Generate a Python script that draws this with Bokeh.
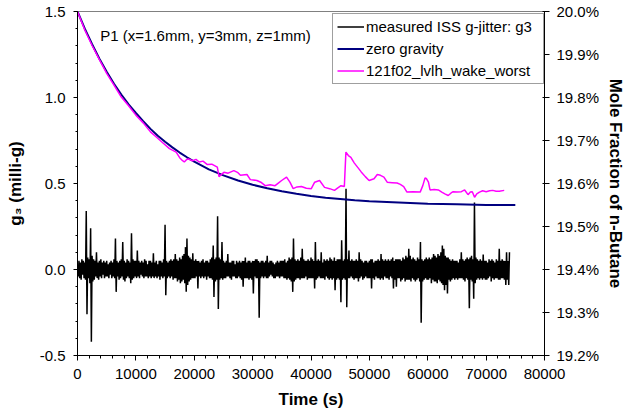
from bokeh.plotting import figure
from bokeh.models import (Range1d, LinearAxis, SingleIntervalTicker, FixedTicker,
                          PrintfTickFormatter, Legend, LegendItem, Label)
from bokeh.embed import file_html
from bokeh.resources import INLINE

FONT = "Liberation Sans"

# ---------------- data ----------------
# measured ISS g-jitter g3 (milli-g), sampled every 125 s from 0 to 74000 s
g_jitter = [
    # 0 - 4875 s
    0.02, -0.04, 0.05, -0.05, 0.04, -0.06, 0.06, -0.03, 0.05, -0.05, 0.04, -0.06, 0.34, -0.26, 0.07, -0.05, 0.06, -0.08, 0.24, -0.42,
    0.08, -0.07, 0.06, -0.06, 0.05, -0.04, 0.10, -0.05, 0.04, -0.06, 0.05, -0.04, 0.06, -0.05, 0.04, -0.03, 0.05, -0.05, 0.04, -0.04,
    # 5000 - 9875 s
    0.05, -0.04, 0.03, -0.05, 0.04, -0.03, 0.05, -0.05, 0.04, -0.04, 0.06, -0.05, 0.18, -0.13, 0.05, -0.04, 0.04, -0.06, 0.05, -0.05,
    0.06, -0.04, 0.16, -0.06, 0.05, -0.07, 0.04, -0.05, 0.06, -0.04, 0.05, -0.05, 0.04, -0.08, 0.21, -0.06, 0.06, -0.05, 0.05, -0.04,
    # 10000 - 14875 s
    0.05, -0.05, 0.11, -0.04, 0.05, -0.05, 0.04, -0.03, 0.05, -0.04, 0.04, -0.05, 0.06, -0.04, 0.05, -0.04, 0.03, -0.05, 0.05, -0.04,
    0.05, -0.05, 0.04, -0.04, 0.095, -0.05, 0.04, -0.04, 0.05, -0.05, 0.03, -0.04, 0.05, -0.06, 0.05, -0.04, 0.04, -0.05, 0.06, -0.04,
    # 15000 - 19875 s
    0.26, -0.15, 0.05, -0.05, 0.04, -0.04, 0.05, -0.05, 0.06, -0.04, 0.05, -0.06, 0.06, -0.05, 0.09, -0.05, 0.06, -0.07, 0.05, -0.06,
    0.07, -0.08, 0.06, -0.07, 0.08, -0.06, 0.09, -0.08, 0.13, -0.13, 0.18, -0.09, 0.08, -0.07, 0.07, -0.06, 0.06, -0.05, 0.095, -0.05,
    # 20000 - 24875 s
    0.05, -0.05, 0.06, -0.04, 0.05, -0.11, 0.05, -0.04, 0.04, -0.05, 0.05, -0.04, 0.06, -0.05, 0.04, -0.04, 0.05, -0.06, 0.05, -0.04,
    0.04, -0.05, 0.06, -0.05, 0.07, -0.06, 0.14, -0.16, 0.06, -0.07, 0.07, -0.06, 0.31, -0.23, 0.07, -0.06, 0.06, -0.05, 0.16, -0.06,
    # 25000 - 29875 s
    0.05, -0.05, 0.04, -0.05, 0.05, -0.04, 0.09, -0.04, 0.04, -0.05, 0.04, -0.06, 0.05, -0.04, 0.05, -0.04, 0.03, -0.05, 0.05, -0.05,
    0.04, -0.04, 0.05, -0.05, 0.04, -0.06, 0.05, -0.10, 0.05, -0.05, 0.07, -0.05, 0.04, -0.05, 0.05, -0.06, 0.05, -0.05, 0.04, -0.06,
    # 30000 - 34875 s
    0.05, -0.14, 0.05, -0.04, 0.06, -0.05, 0.06, -0.05, 0.05, -0.28, 0.04, -0.05, 0.05, -0.04, 0.05, -0.05, 0.04, -0.04, 0.05, -0.05,
    0.08, -0.05, 0.04, -0.04, 0.05, -0.03, 0.05, -0.04, 0.04, -0.05, 0.03, -0.05, 0.04, -0.04, 0.05, -0.04, 0.04, -0.05, 0.05, -0.04,
    # 35000 - 39875 s
    0.05, -0.04, 0.05, -0.05, 0.06, -0.05, 0.04, -0.06, 0.05, -0.05, 0.07, -0.06, 0.06, -0.07, 0.07, -0.13, 0.18, -0.07, 0.06, -0.06,
    0.05, -0.05, 0.06, -0.05, 0.05, -0.06, 0.07, -0.05, 0.12, -0.05, 0.06, -0.05, 0.05, -0.04, 0.05, -0.06, 0.06, -0.05, 0.05, -0.05,
    # 40000 - 44875 s
    0.07, -0.05, 0.06, -0.05, 0.05, -0.11, 0.16, -0.06, 0.05, -0.05, 0.06, -0.04, 0.05, -0.05, 0.10, -0.05, 0.04, -0.05, 0.06, -0.06,
    0.05, -0.04, 0.06, -0.05, 0.05, -0.06, 0.07, -0.05, 0.06, -0.06, 0.05, -0.05, 0.07, -0.12, 0.05, -0.06, 0.06, -0.05, 0.06, -0.06,
    # 45000 - 49875 s
    0.06, -0.19, 0.17, -0.06, 0.05, -0.05, 0.06, -0.06, 0.47, -0.22, 0.06, -0.05, 0.11, -0.05, 0.05, -0.04, 0.06, -0.05, 0.05, -0.06,
    0.05, -0.05, 0.06, -0.05, 0.05, -0.07, 0.10, -0.05, 0.06, -0.04, 0.05, -0.06, 0.04, -0.05, 0.05, -0.04, 0.05, -0.05, 0.04, -0.05,
    # 50000 - 54875 s
    0.05, -0.05, 0.06, -0.11, 0.06, -0.05, 0.04, -0.06, 0.05, -0.04, 0.05, -0.05, 0.06, -0.05, 0.05, -0.06, 0.09, -0.05, 0.06, -0.06,
    0.05, -0.04, 0.06, -0.05, 0.05, -0.05, 0.06, -0.06, 0.05, -0.04, 0.06, -0.05, 0.07, -0.11, 0.05, -0.06, 0.06, -0.10, 0.06, -0.05,
    # 55000 - 59875 s
    0.06, -0.05, 0.06, -0.07, 0.05, -0.06, 0.07, -0.05, 0.06, -0.07, 0.08, -0.06, 0.07, -0.06, 0.12, -0.06, 0.08, -0.07, 0.06, -0.05,
    0.07, -0.06, 0.06, -0.07, 0.05, -0.06, 0.07, -0.05, 0.06, -0.07, 0.16, -0.31, 0.06, -0.07, 0.05, -0.06, 0.06, -0.05, 0.07, -0.06,
    # 60000 - 64875 s
    0.06, -0.06, 0.07, -0.05, 0.06, -0.08, 0.07, -0.06, 0.09, -0.07, 0.08, -0.07, 0.07, -0.08, 0.09, -0.06, 0.08, -0.07, 0.10, -0.08,
    0.14, -0.09, 0.12, -0.12, 0.08, -0.09, 0.07, -0.14, 0.07, -0.06, 0.06, -0.07, 0.05, -0.06, 0.06, -0.05, 0.05, -0.06, 0.05, -0.05,
    # 65000 - 69875 s
    0.05, -0.06, 0.04, -0.05, 0.06, -0.05, 0.10, -0.05, 0.06, -0.06, 0.05, -0.07, 0.06, -0.05, 0.07, -0.06, 0.06, -0.225, 0.07, -0.06,
    0.08, -0.07, 0.06, -0.17, 0.39, -0.08, 0.07, -0.06, 0.06, -0.05, 0.05, -0.06, 0.06, -0.05, 0.05, -0.06, 0.087, -0.05, 0.05, -0.06,
    # 70000 - 74000 s
    0.05, -0.06, 0.04, -0.05, 0.06, -0.04, 0.05, -0.07, 0.06, -0.05, 0.05, -0.06, 0.04, -0.05, 0.06, -0.05, 0.05, -0.06, 0.12, -0.06,
    0.05, -0.05, 0.06, -0.05, 0.05, -0.06, 0.05, -0.09, 0.10, -0.06, 0.05, -0.09, 0.10,
]
t_jitter = [i * 125 for i in range(len(g_jitter))]

# zero gravity mole fraction (%)
t_zero = [0, 1250, 2500, 3750, 5000, 6250, 7500, 8750, 10000, 11250, 12500, 13750, 15000,
          16250, 17500, 18750, 20000, 22500, 25000, 27500, 30000, 32500, 35000, 37500,
          40000, 42500, 45000, 47500, 50000, 55000, 60000, 65000, 70000, 75000]
mf_zero = [20.000, 19.960, 19.924, 19.890, 19.860, 19.832, 19.807, 19.784, 19.764, 19.745,
           19.727, 19.711, 19.697, 19.684, 19.672, 19.661, 19.651, 19.633, 19.619, 19.607,
           19.597, 19.589, 19.582, 19.576, 19.571, 19.567, 19.564, 19.561, 19.559, 19.556,
           19.553, 19.552, 19.550, 19.550]

# 121f02_lvlh_wake_worst mole fraction (%)
t_mag = [0, 1250, 2500, 3750, 5000, 6250, 7500, 8750, 10000, 11250, 12500, 13500, 14500,
         15750, 16900, 17500, 18000, 18300, 18700, 19000, 19700, 20300, 20850, 21500, 22250,
         23000, 23950, 24240, 25080, 25800, 26780, 27400, 27920, 29030, 29610, 30730, 31400,
         32150, 33000, 33850, 34400, 34970, 35810, 36390, 36950, 37600, 38360, 39200, 40050,
         40630, 41470, 42320, 43200, 44020, 44600, 45140, 45710, 45980, 46400, 46830, 47400,
         47970, 48600, 49300, 49950, 50800, 51360, 51900, 52490, 53050, 53900, 54750, 55300,
         55880, 56440, 57500, 58700, 59150, 59540, 59800, 60120, 60390, 61100, 61810, 62400,
         62930, 63510, 64000, 64360, 65000, 65760, 66320, 66900, 67300, 67630, 68020, 68400,
         68860, 69400, 70000, 70600, 71140, 71700, 72250, 73100]
mf_mag = [20.000, 19.957, 19.921, 19.888, 19.856, 19.829, 19.801, 19.781, 19.759, 19.741,
          19.720, 19.708, 19.696, 19.681, 19.673, 19.660, 19.653, 19.650, 19.656, 19.657,
          19.653, 19.656, 19.650, 19.652, 19.644, 19.645, 19.638, 19.616, 19.626, 19.624,
          19.630, 19.626, 19.619, 19.621, 19.609, 19.607, 19.603, 19.595, 19.597, 19.595,
          19.601, 19.607, 19.615, 19.603, 19.588, 19.592, 19.593, 19.589, 19.588, 19.603,
          19.607, 19.591, 19.588, 19.584, 19.590, 19.595, 19.593, 19.673, 19.665, 19.661,
          19.648, 19.638, 19.627, 19.616, 19.607, 19.611, 19.621, 19.619, 19.615, 19.603,
          19.602, 19.601, 19.598, 19.593, 19.580, 19.581, 19.580, 19.595, 19.613, 19.611,
          19.603, 19.585, 19.586, 19.585, 19.580, 19.576, 19.572, 19.578, 19.581, 19.580,
          19.581, 19.585, 19.574, 19.580, 19.581, 19.568, 19.576, 19.580, 19.583, 19.581,
          19.583, 19.584, 19.582, 19.582, 19.584]

right_ticks = [19.2, 19.3, 19.4, 19.5, 19.6, 19.7, 19.8, 19.9, 20.0]

series_labels = ["measured ISS g-jitter: g3", "zero gravity", "121f02_lvlh_wake_worst"]
note_text = "P1 (x=1.6mm, y=3mm, z=1mm)"

# ---------------- figure ----------------
p = figure(width=628, height=415, output_backend="svg", toolbar_location=None,
           x_range=Range1d(0, 80000), y_range=Range1d(-0.5, 1.5),
           min_border_left=77, min_border_right=79, min_border_top=11, min_border_bottom=60)
p.extra_y_ranges = {"mf": Range1d(19.2, 20.0)}
p.grid.visible = False
p.outline_line_color = "#808080"
p.outline_line_width = 1
p.background_fill_color = "white"
p.border_fill_color = "white"

xa = p.xaxis[0]
xa.ticker = SingleIntervalTicker(interval=10000, num_minor_ticks=5)
xa.formatter = PrintfTickFormatter(format="%d")
xa.axis_label = "Time (s)"

ya = p.yaxis[0]
ya.ticker = SingleIntervalTicker(interval=0.5, num_minor_ticks=5)
ya.formatter = PrintfTickFormatter(format="%.1f")
ya.axis_label = "g\u2083 (milli-g)"

ra = LinearAxis(y_range_name="mf", ticker=FixedTicker(ticks=right_ticks),
                formatter=PrintfTickFormatter(format="%.1f%%"),
                axis_label="Mole Fraction of n-Butane")
p.add_layout(ra, "right")

for ax in (xa, ya, ra):
    ax.axis_line_color = "black"
    ax.axis_line_width = 1
    ax.major_tick_line_color = "black"
    ax.minor_tick_line_color = "black"
    ax.major_label_text_font = FONT
    ax.major_label_text_font_size = "15px"
    ax.major_label_text_color = "black"
    ax.axis_label_text_font = FONT
    ax.axis_label_text_font_size = "17px"
    ax.axis_label_text_font_style = "bold"
    ax.axis_label_text_color = "black"

xa.major_tick_in = 0
xa.major_tick_out = 5
xa.minor_tick_in = 0
xa.minor_tick_out = 3
xa.major_label_standoff = 8
xa.axis_label_standoff = 8

ya.major_tick_in = 0
ya.major_tick_out = 4
ya.minor_tick_in = 0
ya.minor_tick_out = 2
ya.major_label_standoff = 8
ya.axis_label_standoff = 12

ra.major_tick_in = 2
ra.major_tick_out = 5
ra.minor_tick_line_color = None
ra.major_label_standoff = 7
ra.axis_label_standoff = 4

r_jit = p.line(t_jitter, g_jitter, line_color="black", line_width=1.5)
r_zero = p.line(t_zero, mf_zero, y_range_name="mf", line_color="#000080", line_width=2)
r_mag = p.line(t_mag, mf_mag, y_range_name="mf", line_color="#FF00FF", line_width=1.5)

legend = Legend(items=[LegendItem(label=series_labels[0], renderers=[r_jit]),
                       LegendItem(label=series_labels[1], renderers=[r_zero]),
                       LegendItem(label=series_labels[2], renderers=[r_mag])],
                location=(255, 271))
legend.label_text_font = FONT
legend.label_text_font_size = "15px"
legend.label_text_color = "black"
legend.border_line_color = "#404040"
legend.border_line_width = 1
legend.background_fill_color = "white"
legend.background_fill_alpha = 1.0
legend.glyph_width = 27
legend.glyph_height = 17
legend.label_height = 17
legend.label_standoff = 2
legend.padding = 4
legend.spacing = 5
legend.margin = 0
legend.label_width = 173
p.add_layout(legend)

note = Label(x=3900, y=1.36, text=note_text, text_font=FONT, text_font_size="15px",
             text_baseline="middle", text_color="black")
p.add_layout(note)

open("out.html", "w").write(file_html(p, INLINE))
